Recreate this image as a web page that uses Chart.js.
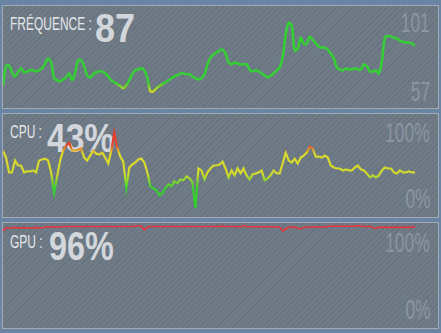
<!DOCTYPE html>
<html lang="fr">
<head>
<meta charset="UTF-8">
<title>Moniteur</title>
<script src="https://cdn.jsdelivr.net/npm/chart.js"></script>
<style>
    body {
        margin: 0;
        width: 441px;
        height: 333px;
        background: #6a84a3;
        overflow: hidden;
        position: relative;
        font-family: 'Liberation Sans', Arial, sans-serif;
    }
    .panel {
        position: absolute;
        left: 2px;
        width: 437px;
        box-sizing: border-box;
        border: 1px solid #a2aab2;
        background-color: #6f7b87;
        background-image: repeating-linear-gradient(135deg, rgba(0,0,0,0.07) 0 1px, rgba(0,0,0,0) 1px 4px);
        overflow: hidden;
    }
    .panel canvas {
        position: absolute;
        left: 0;
        top: 0;
    }
    .name {
        position: absolute;
        left: 7px;
        font-size: 19px;
        line-height: 19px;
        color: #e4e6e8;
        white-space: nowrap;
        transform: scaleX(0.63);
        transform-origin: left top;
    }
    .big {
        position: absolute;
        font-size: 40px;
        line-height: 40px;
        font-weight: bold;
        color: rgba(222, 225, 229, 0.92);
        white-space: nowrap;
        transform-origin: left top;
    }
    .tick {
        position: absolute;
        right: 8px;
        font-size: 28px;
        line-height: 28px;
        color: rgba(170, 180, 190, 0.5);
        transform: scaleX(0.62);
        transform-origin: right top;
    }
</style>
</head>
<body>
<script>
    // panel titles and current readings
    const panelNames = ['FRÉQUENCE', 'CPU', 'GPU'];
    const currentValues = ['87', '43%', '96%'];
    const freqTicks = ['101', '57'];
    const cpuTicks = ['100%', '0%'];
    const gpuTicks = ['100%', '0%'];

    // samples, one per tick, oldest first
    const freqValues = [
        73.0, 79.7, 80.0, 77.6, 76.2, 77.6, 79.0, 77.6, 77.9, 78.3,
        78.3, 77.9, 78.3, 79.0, 80.7, 82.5, 81.1, 75.5, 74.8, 74.4,
        75.1, 75.8, 77.2, 74.8, 77.6, 81.8, 81.8, 79.7, 76.5, 75.8,
        76.9, 77.6, 77.9, 77.9, 77.2, 76.2, 74.8, 74.1, 73.4, 72.7,
        72.0, 73.0, 74.8, 76.9, 78.3, 78.6, 79.0, 78.3, 75.5, 70.9,
        70.9, 72.0, 72.7, 73.4, 74.1, 74.8, 75.5, 76.2, 76.5, 77.2,
        77.2, 76.9, 76.9, 76.2, 75.5, 75.1, 75.5, 76.9, 80.4, 82.8,
        83.9, 84.6, 85.3, 85.6, 84.2, 81.1, 80.4, 81.1, 80.7, 80.4,
        80.4, 80.4, 78.6, 77.9, 78.3, 77.9, 77.2, 76.5, 75.8, 76.5,
        77.2, 78.3, 79.3, 82.8, 90.9, 95.1, 94.0, 85.3, 86.0, 89.8,
        87.7, 87.7, 90.2, 89.1, 87.7, 86.7, 86.3, 86.3, 85.6, 84.2,
        82.5, 79.3, 78.6, 78.3, 79.0, 78.6, 78.6, 79.0, 78.6, 78.6,
        80.4, 79.7, 77.9, 77.9, 78.3, 77.2, 81.8, 89.8, 90.5, 90.2,
        89.8, 89.5, 88.8, 88.4, 88.1, 88.1, 87.7, 87.0
    ];
    const cpuValues = [
        64.4, 57.7, 43.3, 43.3, 54.8, 50.0, 50.0, 43.3, 44.2, 44.2,
        45.2, 43.3, 54.8, 55.8, 56.7, 54.8, 43.3, 23.1, 39.4, 54.8,
        64.4, 69.2, 72.1, 64.4, 64.4, 65.4, 66.3, 57.7, 54.8, 59.6,
        64.4, 61.5, 60.6, 62.5, 57.7, 51.9, 64.4, 81.7, 67.3, 58.7,
        53.8, 27.9, 48.1, 51.0, 52.9, 55.8, 56.7, 52.9, 43.3, 29.8,
        27.9, 26.0, 21.2, 23.1, 27.9, 31.7, 29.8, 34.6, 32.7, 36.5,
        35.6, 39.4, 37.5, 33.7, 8.7, 47.1, 45.2, 36.5, 43.3, 47.1,
        50.0, 50.0, 51.0, 53.8, 47.1, 38.5, 45.2, 40.4, 47.1, 42.3,
        47.1, 40.4, 36.5, 41.3, 42.3, 43.3, 45.2, 35.6, 37.5, 40.4,
        45.2, 42.3, 42.3, 51.9, 62.5, 54.8, 52.9, 56.7, 51.9, 57.7,
        59.6, 62.5, 68.3, 66.3, 58.7, 58.7, 57.7, 59.6, 57.7, 50.0,
        48.1, 47.1, 47.1, 45.2, 46.2, 45.2, 45.2, 48.1, 50.0, 46.2,
        45.2, 42.3, 38.5, 40.4, 38.5, 40.4, 45.2, 48.1, 47.1, 47.1,
        43.3, 42.3, 45.2, 43.3, 43.3, 44.2, 43.3, 43.3
    ];
    const gpuValues = [
        92.5, 95.3, 95.3, 95.3, 95.8, 95.3, 95.3, 95.8, 95.3, 95.3,
        95.3, 95.8, 95.3, 95.3, 96.2, 96.2, 96.2, 96.2, 96.2, 96.2,
        96.7, 96.7, 96.4, 96.7, 96.7, 96.7, 96.4, 96.7, 96.7, 96.7,
        96.7, 96.4, 96.7, 96.7, 96.7, 96.7, 96.7, 96.4, 96.7, 96.7,
        96.7, 96.7, 96.7, 96.7, 97.2, 97.2, 97.2, 93.4, 96.2, 96.7,
        96.7, 96.7, 96.7, 96.4, 96.7, 96.7, 96.7, 96.7, 96.7, 96.4,
        96.7, 96.7, 96.7, 96.7, 96.7, 96.7, 96.4, 96.7, 96.7, 96.7,
        96.7, 96.7, 96.7, 97.2, 96.7, 96.7, 96.7, 96.7, 96.7, 96.2,
        97.6, 96.7, 96.4, 96.4, 96.4, 96.4, 96.4, 96.4, 96.4, 96.4,
        96.4, 96.4, 96.2, 92.5, 94.3, 96.2, 96.2, 95.8, 95.3, 94.3,
        95.8, 96.2, 96.2, 96.2, 96.2, 96.2, 96.2, 96.2, 96.9, 96.9,
        96.9, 96.9, 96.9, 96.9, 96.9, 96.9, 96.9, 96.9, 97.6, 97.2,
        96.7, 96.7, 96.7, 95.6, 94.6, 96.2, 95.8, 96.2, 95.8, 95.8,
        96.2, 95.8, 95.8, 96.2, 95.8, 95.8, 96.2, 95.8
    ];

    const panels = [
        { top: 5, height: 104, values: freqValues, ticks: freqTicks, min: 65, max: 101, tension: 0.35, width: 2.6,
          colors: [[65, '#c9d52a'], [71, '#c9d52a'], [74, '#35cf35'], [101, '#35cf35']],
          nameTop: 8, bigLeft: 92, bigTop: 2, bigScale: 0.9, tickTop: 3, tickBottom: 2 },
        { top: 113, height: 105, values: cpuValues, ticks: cpuTicks, min: 0, max: 100, tension: 0, width: 2.2,
          colors: [[0, '#2bd02b'], [28, '#36d02e'], [42, '#d2d92c'], [62, '#dcd92c'], [70, '#e3442c'], [100, '#e3302c']],
          nameTop: 8, bigLeft: 44, bigTop: 4, bigScale: 0.84, tickTop: 5, tickBottom: 4 },
        { top: 222, height: 107, values: gpuValues, ticks: gpuTicks, min: 0, max: 100, tension: 0, width: 1.6,
          colors: [[0, '#e8333a'], [100, '#e8333a']],
          nameTop: 9, bigLeft: 46, bigTop: 3, bigScale: 0.81, tickTop: 6, tickBottom: 4 }
    ];

    panels.forEach((p, i) => {
        const div = document.createElement('div');
        div.className = 'panel';
        div.style.top = p.top + 'px';
        div.style.height = p.height + 'px';

        const name = document.createElement('div');
        name.className = 'name';
        name.style.top = p.nameTop + 'px';
        name.textContent = panelNames[i] + ' :';
        div.appendChild(name);

        const big = document.createElement('div');
        big.className = 'big';
        big.style.left = p.bigLeft + 'px';
        big.style.top = p.bigTop + 'px';
        big.style.transform = 'scaleX(' + p.bigScale + ')';
        big.textContent = currentValues[i];
        div.appendChild(big);

        const tTop = document.createElement('div');
        tTop.className = 'tick';
        tTop.style.top = p.tickTop + 'px';
        tTop.textContent = p.ticks[0];
        div.appendChild(tTop);

        const tBot = document.createElement('div');
        tBot.className = 'tick';
        tBot.style.bottom = p.tickBottom + 'px';
        tBot.textContent = p.ticks[1];
        div.appendChild(tBot);

        const canvas = document.createElement('canvas');
        canvas.width = 412;
        canvas.height = p.height - 2;
        div.appendChild(canvas);
        document.body.appendChild(div);

        new Chart(canvas.getContext('2d'), {
            type: 'line',
            data: {
                labels: p.values.map((v, k) => k),
                datasets: [{
                    data: p.values,
                    borderWidth: p.width,
                    tension: p.tension,
                    pointRadius: 0,
                    fill: false,
                    borderColor: (context) => {
                        const chart = context.chart;
                        const area = chart.chartArea;
                        if (!area) return p.colors[0][1];
                        const y = chart.scales.y;
                        const g = chart.ctx.createLinearGradient(0, y.getPixelForValue(p.min), 0, y.getPixelForValue(p.max));
                        p.colors.forEach(c => g.addColorStop((c[0] - p.min) / (p.max - p.min), c[1]));
                        return g;
                    }
                }]
            },
            options: {
                responsive: false,
                animation: false,
                layout: { padding: 0 },
                plugins: { legend: { display: false }, tooltip: { enabled: false } },
                scales: {
                    x: { display: false },
                    y: { display: false, min: p.min, max: p.max }
                }
            }
        });
    });
</script>
</body>
</html>
